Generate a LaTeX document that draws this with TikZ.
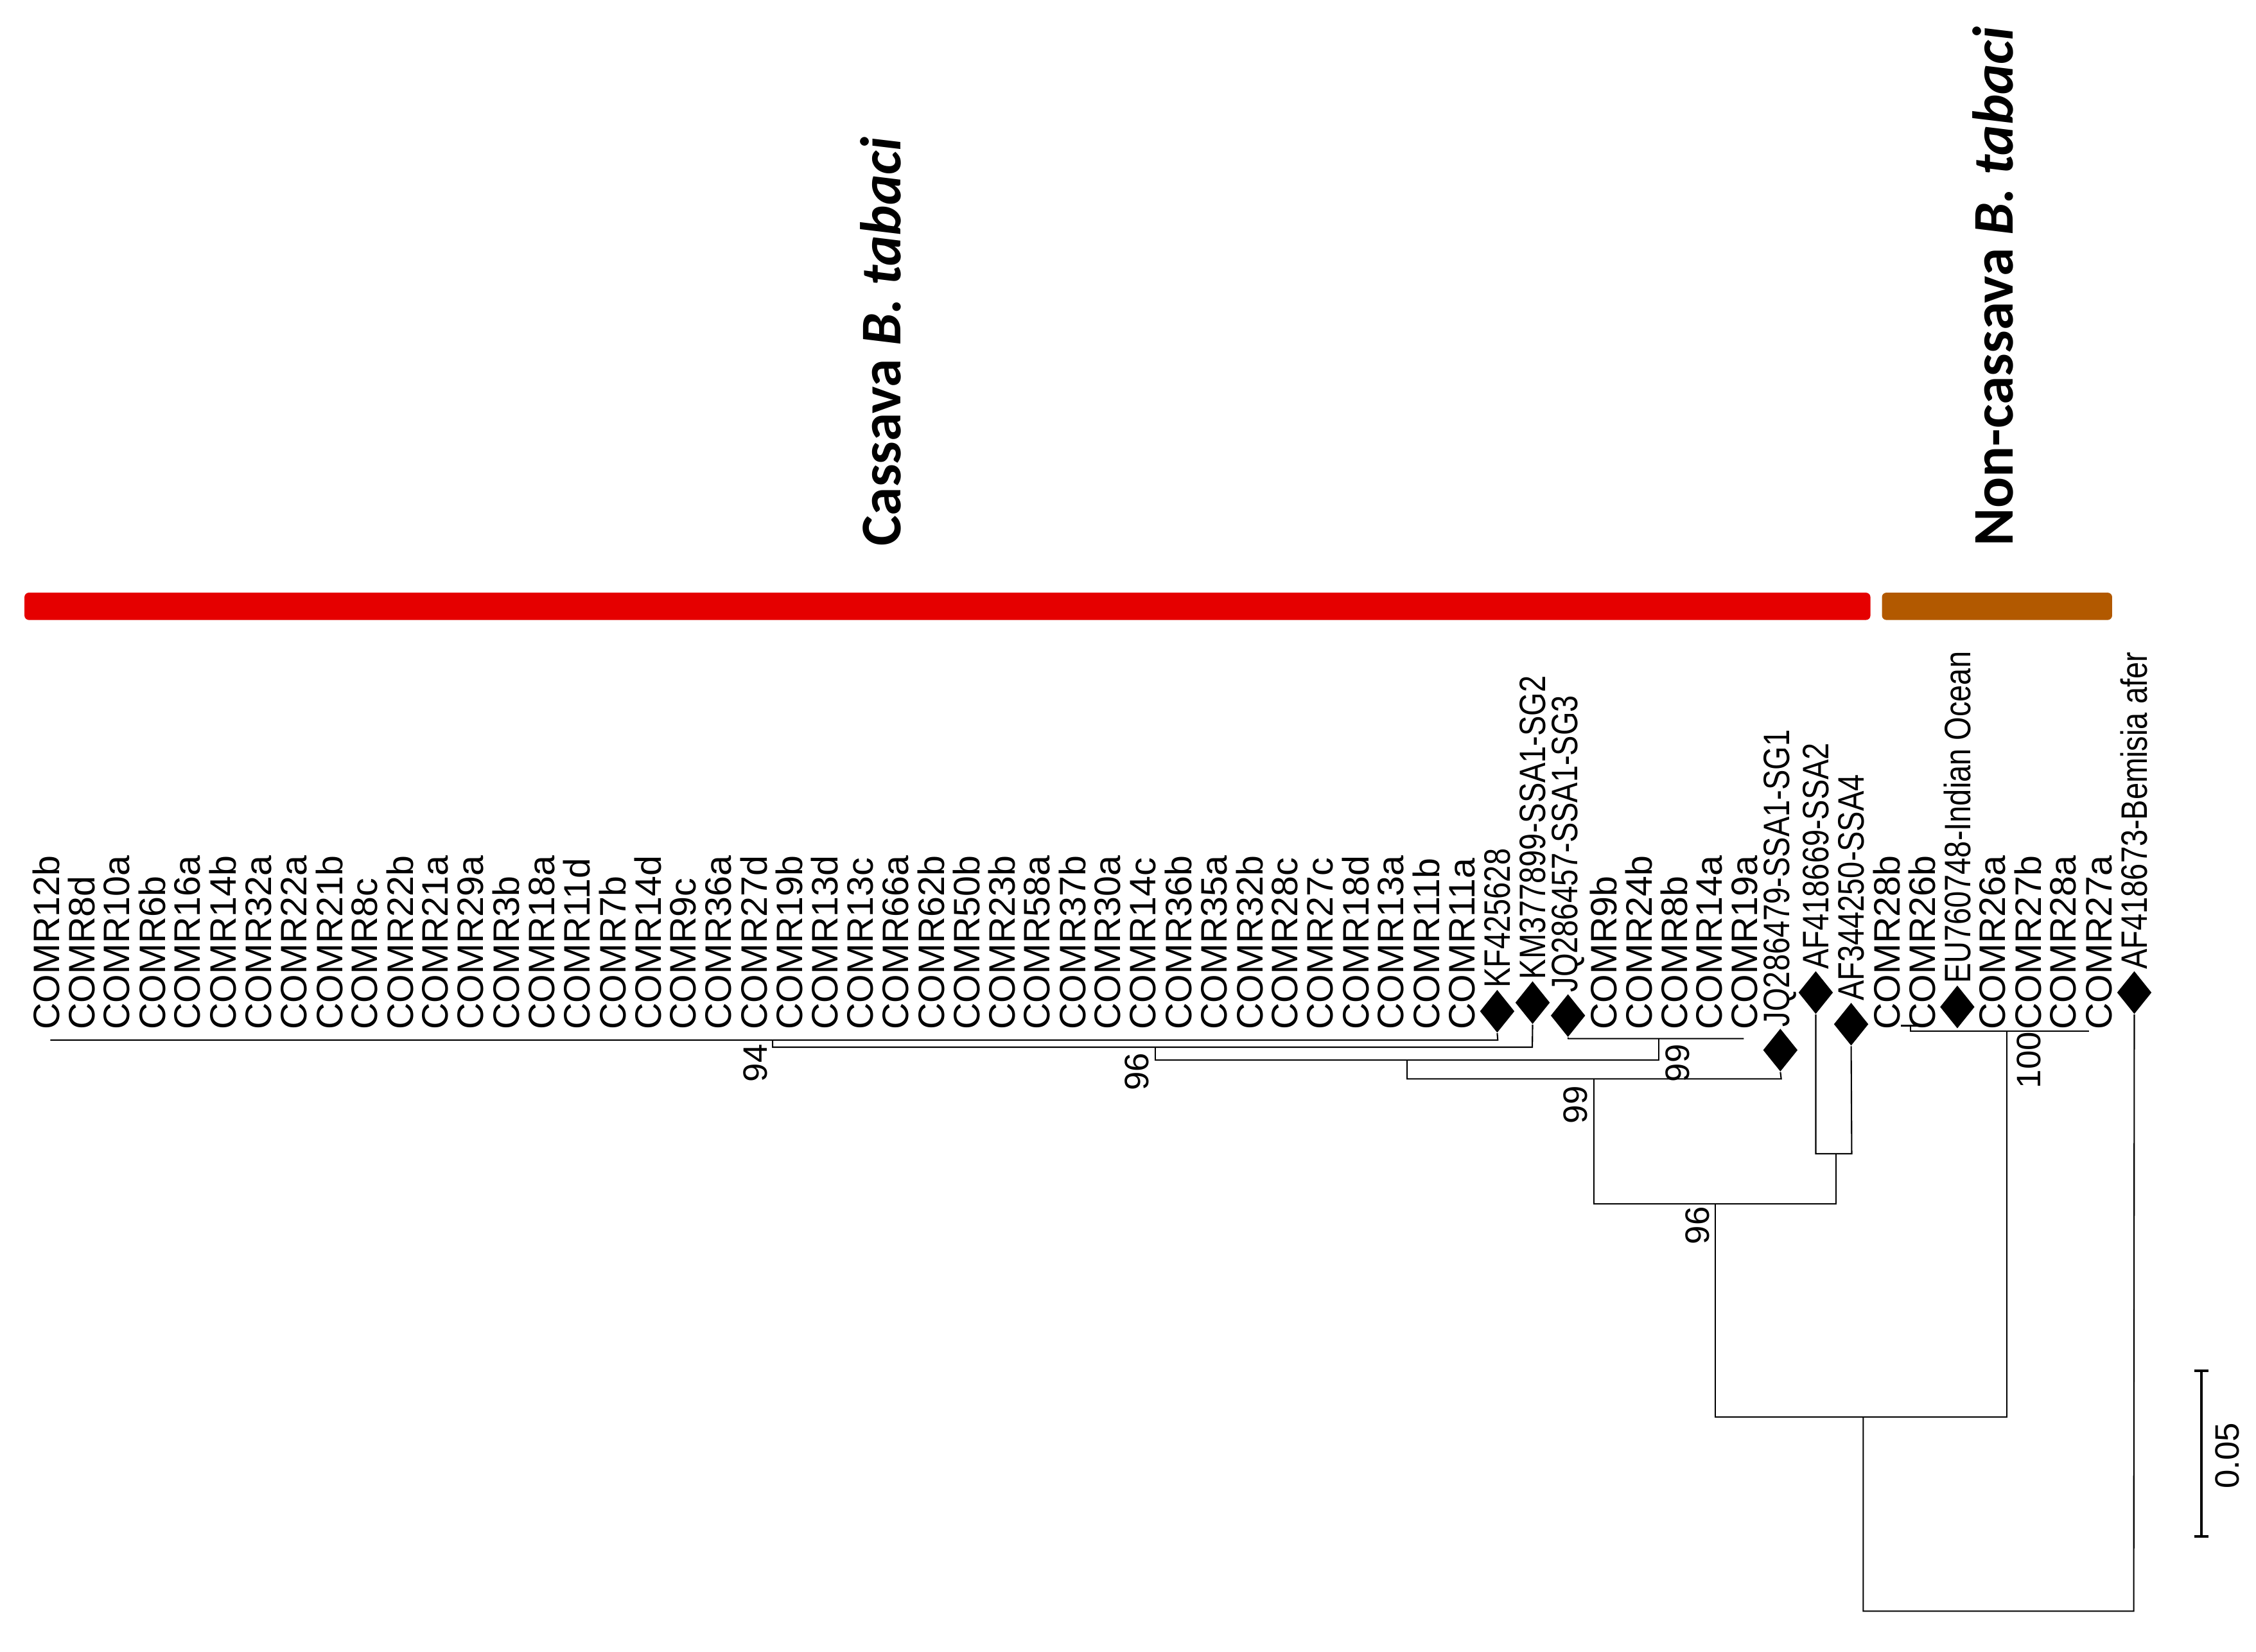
\documentclass[tikz,border=0pt]{standalone}
\usepackage{fontspec}
\setmainfont{Liberation Sans}
\newfontfamily\titlefont{Carlito}
\usetikzlibrary{shapes.geometric}
\begin{document}
\begin{tikzpicture}[x=0.0224cm,y=-0.0224cm,
  leaf/.style={rotate=90,anchor=west,inner sep=0pt,font=\fontsize{16.3}{17}\selectfont},
  dleaf/.style={leaf,xscale=0.82},
  dia/.style={diamond,fill=black,minimum width=0.54cm,minimum height=0.67cm,inner sep=0pt},
  boot/.style={rotate=90,inner sep=0pt,font=\fontsize{15}{16}\selectfont},
  br/.style={line width=0.6pt},
  title/.style={rotate=90,anchor=west,inner sep=0pt,font=\titlefont\bfseries\fontsize{25.5}{27}\selectfont}]
\useasboundingbox (0,0) rectangle (1568,1148);
% bars
\fill[red!90!black,rounded corners=2pt] (17,412) rectangle (1300,431);
\fill[orange!70!black,rounded corners=2pt] (1308,412) rectangle (1468,431);
\node[title] (t1) at (612,380) {Cassava \textit{B. tabaci}};
\node[title] (t2) at (1385,380) {Non-cassava \textit{B. tabaci}};
% plain leaves
\foreach \n/\i in {COMR12b/0,COMR8d/1,COMR10a/2,COMR6b/3,COMR16a/4,COMR14b/5,COMR32a/6,COMR22a/7,COMR21b/8,COMR8c/9,COMR22b/10,COMR21a/11,COMR29a/12,COMR3b/13,COMR18a/14,COMR11d/15,COMR7b/16,COMR14d/17,COMR9c/18,COMR36a/19,COMR27d/20,COMR19b/21,COMR13d/22,COMR13c/23,COMR66a/24,COMR62b/25,COMR50b/26,COMR23b/27,COMR58a/28,COMR37b/29,COMR30a/30,COMR14c/31,COMR36b/32,COMR35a/33,COMR32b/34,COMR28c/35,COMR27c/36,COMR18d/37,COMR13a/38,COMR11b/39,COMR11a/40,COMR9b/44,COMR24b/45,COMR8b/46,COMR14a/47,COMR19a/48,COMR28b/52,COMR26b/53,COMR26a/55,COMR27b/56,COMR28a/57,COMR27a/58}
  \node[leaf] (\n) at ({32+24.6*\i},716) {\n};
% diamond leaves
\foreach \n/\t/\i/\y in {kf/KF425628/41/703,km/KM377899-SSA1-SG2/42/697,jqa/JQ286457-SSA1-SG3/43/706,jqb/JQ286479-SSA1-SG1/49/730,afa/AF418669-SSA2/50/690,afb/AF344250-SSA4/51/712,eu/EU760748-Indian Ocean/54/700,afc/AF418673-Bemisia afer/59/690}{
  \node[dia] (d\n) at ({32+24.6*\i},\y) {};
  \node[dleaf] (\n) at ({32+24.6*\i},\y-16) {\t};}
% tree
\coordinate (a1) at (35,723); \coordinate (a2) at (1041,723);
\draw[br] (a1) -- (a2) -- (dkf.south);
\coordinate (b1) at (537,723); \coordinate (b2) at (537,728); \coordinate (b3) at (1065,728);
\draw[br] (b1) -- (b2) -- (b3) -- (dkm.south);
\node[boot] (n94) at (525,739) {94};
\coordinate (g1) at (1090,722); \coordinate (g2) at (1212,722);
\draw[br] (djqa.south) -- (g1) -- (g2);
\coordinate (c1) at (803,728); \coordinate (c2) at (803,737); \coordinate (c3) at (1153,737); \coordinate (c4) at (1153,722);
\draw[br] (c1) -- (c2) -- (c3) -- (c4);
\node[boot] (n96a) at (790,745) {96};
\node[boot] (n99a) at (1166,739) {99};
\coordinate (e1) at (978,737); \coordinate (e2) at (978,750); \coordinate (e3) at (1238,750);
\draw[br] (e1) -- (e2) -- (e3) -- (djqb.south);
\coordinate (f1) at (1108,750); \coordinate (f2) at (1108,837); \coordinate (f3) at (1276,837); \coordinate (f4) at (1276,802);
\draw[br] (f1) -- (f2) -- (f3) -- (f4);
\node[boot] (n99b) at (1095,768) {99};
\coordinate (h1) at (1262,802); \coordinate (h2) at (1287,802);
\draw[br] (dafa.south) -- (h1) -- (h2) -- (dafb.south);
\coordinate (i1) at (1192,837); \coordinate (i2) at (1192,985); \coordinate (i3) at (1395,985); \coordinate (i4) at (1395,717);
\draw[br] (i1) -- (i2) -- (i3) -- (i4);
\node[boot] (n96b) at (1180,852) {96};
\coordinate (k1) at (1321,713); \coordinate (k2) at (1333,713); \coordinate (k3) at (1328,713); \coordinate (k4) at (1328,717); \coordinate (k5) at (1452,717);
\draw[br] (k1) -- (k2); \draw[br] (k3) -- (k4) -- (k5);
\node[boot] (n100) at (1410,737) {100};
\coordinate (m1) at (1295,985); \coordinate (m2) at (1295,1120); \coordinate (m3) at (1483,1120);
\draw[br] (m1) -- (m2) -- (m3) -- (dafc.south);
% scale bar
\coordinate (s1) at (1530,953); \coordinate (s2) at (1530,1068);
\draw[line width=1.2pt] (s1) -- (s2);
\draw[line width=1.2pt] (1525,953) -- (1535,953) (1525,1068) -- (1535,1068);
\node[boot] (sc) at (1548,1012) {0.05};
\end{tikzpicture}
\end{document}
